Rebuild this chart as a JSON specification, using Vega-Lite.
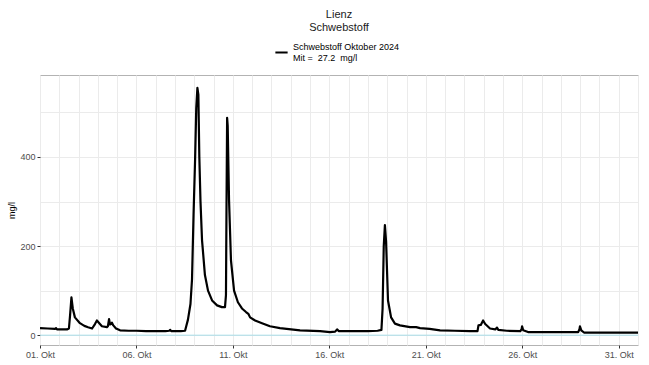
{
  "$schema": "https://vega.github.io/schema/vega-lite/v6.json",
  "width": 598,
  "height": 270,
  "autosize": {"type": "none"},
  "padding": {"left": 40, "top": 75, "right": 11, "bottom": 20},
  "background": "white",
  "title": {"text": ["Lienz", "Schwebstoff"], "frame": "group", "anchor": "middle", "fontSize": 11, "fontWeight": "normal", "font": "Liberation Sans", "color": "#1a1a1a", "offset": 12, "lineHeight": 13},
  "config": {"view": {"stroke": "#b3b3b3", "strokeWidth": 1}, "font": "Liberation Sans"},
  "layer": [
    {
      "data": {"values": [{"y": 0}]},
      "mark": {"type": "rule", "color": "#a8dde8", "strokeWidth": 1},
      "encoding": {"y": {"field": "y", "type": "quantitative"}}
    },
    {
      "data": {"values": [
        {"t": "2024-10-01T00:00", "v": 16},
        {"t": "2024-10-01T09:36", "v": 15},
        {"t": "2024-10-01T18:43", "v": 14},
        {"t": "2024-10-01T19:55", "v": 16},
        {"t": "2024-10-01T21:07", "v": 13},
        {"t": "2024-10-02T09:36", "v": 13},
        {"t": "2024-10-02T12:00", "v": 15},
        {"t": "2024-10-02T13:26", "v": 45},
        {"t": "2024-10-02T15:07", "v": 85},
        {"t": "2024-10-02T16:48", "v": 60},
        {"t": "2024-10-02T19:26", "v": 40},
        {"t": "2024-10-03T01:41", "v": 27},
        {"t": "2024-10-03T07:12", "v": 21},
        {"t": "2024-10-03T11:46", "v": 18},
        {"t": "2024-10-03T16:48", "v": 15},
        {"t": "2024-10-03T20:24", "v": 25},
        {"t": "2024-10-03T22:48", "v": 33},
        {"t": "2024-10-04T01:12", "v": 28},
        {"t": "2024-10-04T05:02", "v": 20},
        {"t": "2024-10-04T11:17", "v": 18},
        {"t": "2024-10-04T12:29", "v": 20},
        {"t": "2024-10-04T13:55", "v": 36},
        {"t": "2024-10-04T15:07", "v": 24},
        {"t": "2024-10-04T16:19", "v": 25},
        {"t": "2024-10-04T17:31", "v": 28},
        {"t": "2024-10-04T19:12", "v": 22},
        {"t": "2024-10-04T22:34", "v": 15},
        {"t": "2024-10-05T03:36", "v": 11},
        {"t": "2024-10-05T14:24", "v": 10},
        {"t": "2024-10-06T00:00", "v": 10},
        {"t": "2024-10-06T12:00", "v": 9},
        {"t": "2024-10-07T00:00", "v": 9},
        {"t": "2024-10-07T12:00", "v": 9},
        {"t": "2024-10-07T16:48", "v": 10},
        {"t": "2024-10-07T18:00", "v": 12},
        {"t": "2024-10-07T19:12", "v": 9},
        {"t": "2024-10-08T07:12", "v": 9},
        {"t": "2024-10-08T12:29", "v": 10},
        {"t": "2024-10-08T16:05", "v": 35},
        {"t": "2024-10-08T19:12", "v": 70},
        {"t": "2024-10-08T21:07", "v": 125},
        {"t": "2024-10-08T23:02", "v": 270},
        {"t": "2024-10-09T00:58", "v": 395},
        {"t": "2024-10-09T02:24", "v": 510},
        {"t": "2024-10-09T03:50", "v": 555},
        {"t": "2024-10-09T05:02", "v": 540},
        {"t": "2024-10-09T06:14", "v": 400},
        {"t": "2024-10-09T07:41", "v": 300},
        {"t": "2024-10-09T09:36", "v": 213},
        {"t": "2024-10-09T13:12", "v": 135},
        {"t": "2024-10-09T17:02", "v": 100},
        {"t": "2024-10-09T22:05", "v": 78},
        {"t": "2024-10-10T04:19", "v": 67},
        {"t": "2024-10-10T10:19", "v": 63},
        {"t": "2024-10-10T14:10", "v": 63},
        {"t": "2024-10-10T15:22", "v": 90},
        {"t": "2024-10-10T16:05", "v": 300},
        {"t": "2024-10-10T16:48", "v": 488},
        {"t": "2024-10-10T17:31", "v": 470},
        {"t": "2024-10-10T19:12", "v": 303},
        {"t": "2024-10-10T21:36", "v": 168},
        {"t": "2024-10-11T01:26", "v": 100},
        {"t": "2024-10-11T06:14", "v": 74},
        {"t": "2024-10-11T11:17", "v": 60},
        {"t": "2024-10-11T16:19", "v": 52},
        {"t": "2024-10-11T19:12", "v": 48},
        {"t": "2024-10-11T21:22", "v": 40},
        {"t": "2024-10-12T03:36", "v": 33},
        {"t": "2024-10-12T12:14", "v": 27},
        {"t": "2024-10-12T22:05", "v": 20},
        {"t": "2024-10-13T10:34", "v": 16},
        {"t": "2024-10-14T11:31", "v": 11},
        {"t": "2024-10-15T12:29", "v": 9},
        {"t": "2024-10-16T00:43", "v": 7},
        {"t": "2024-10-16T07:12", "v": 8},
        {"t": "2024-10-16T09:36", "v": 13},
        {"t": "2024-10-16T12:00", "v": 9},
        {"t": "2024-10-17T00:00", "v": 9},
        {"t": "2024-10-17T12:00", "v": 9},
        {"t": "2024-10-18T00:00", "v": 9},
        {"t": "2024-10-18T12:00", "v": 10},
        {"t": "2024-10-18T16:48", "v": 12},
        {"t": "2024-10-18T18:14", "v": 60},
        {"t": "2024-10-18T19:41", "v": 200},
        {"t": "2024-10-18T21:07", "v": 247},
        {"t": "2024-10-18T22:34", "v": 210},
        {"t": "2024-10-19T00:58", "v": 78},
        {"t": "2024-10-19T04:48", "v": 40},
        {"t": "2024-10-19T09:36", "v": 26},
        {"t": "2024-10-19T15:50", "v": 22},
        {"t": "2024-10-20T04:19", "v": 18},
        {"t": "2024-10-20T12:00", "v": 18},
        {"t": "2024-10-20T16:48", "v": 16},
        {"t": "2024-10-21T04:48", "v": 14},
        {"t": "2024-10-21T17:46", "v": 11},
        {"t": "2024-10-22T12:00", "v": 10},
        {"t": "2024-10-23T06:58", "v": 9},
        {"t": "2024-10-23T16:19", "v": 9},
        {"t": "2024-10-23T17:31", "v": 22},
        {"t": "2024-10-23T20:24", "v": 23},
        {"t": "2024-10-23T23:17", "v": 33},
        {"t": "2024-10-24T01:55", "v": 25},
        {"t": "2024-10-24T07:55", "v": 15},
        {"t": "2024-10-24T14:24", "v": 13},
        {"t": "2024-10-24T16:34", "v": 17},
        {"t": "2024-10-24T18:14", "v": 12},
        {"t": "2024-10-25T04:48", "v": 10},
        {"t": "2024-10-25T21:36", "v": 9},
        {"t": "2024-10-25T23:17", "v": 14},
        {"t": "2024-10-25T23:46", "v": 20},
        {"t": "2024-10-26T01:12", "v": 11},
        {"t": "2024-10-26T07:12", "v": 7},
        {"t": "2024-10-27T00:00", "v": 7},
        {"t": "2024-10-28T00:00", "v": 7},
        {"t": "2024-10-28T21:36", "v": 7},
        {"t": "2024-10-28T23:17", "v": 14},
        {"t": "2024-10-28T23:46", "v": 20},
        {"t": "2024-10-29T01:26", "v": 11},
        {"t": "2024-10-29T04:48", "v": 6},
        {"t": "2024-10-30T00:00", "v": 6},
        {"t": "2024-10-31T00:00", "v": 6},
        {"t": "2024-11-01T00:00", "v": 6}
      ]},
      "mark": {"type": "line", "strokeWidth": 2.2, "strokeJoin": "round"},
      "encoding": {
        "x": {
          "field": "t", "type": "temporal",
          "scale": {"domain": [{"year": 2024, "month": 10, "date": 1}, {"year": 2024, "month": 11, "date": 1}], "nice": false},
          "axis": {
            "title": null,
            "tickCount": {"interval": "day", "step": 1},
            "labelExpr": "(month(datum.value) == 9 && (date(datum.value) - 1) % 5 == 0) ? timeFormat(datum.value, '%d') + '. Okt' : ''",
            "tickColor": {"condition": {"test": "month(datum.value) == 9 && (date(datum.value) - 1) % 5 == 0", "value": "#333333"}, "value": "transparent"},
            "tickSize": 3,
            "labelOverlap": false,
            "labelFlush": false,
            "labelFontSize": 9,
            "labelColor": "#4d4d4d",
            "labelPadding": 2,
            "domain": false,
            "gridColor": "#ebebeb",
            "gridWidth": 1
          }
        },
        "y": {
          "field": "v", "type": "quantitative",
          "scale": {"domain": [-22, 584], "nice": false, "zero": false},
          "axis": {
            "title": "mg/l",
            "values": [0, 100, 200, 300, 400, 500],
            "labelExpr": "datum.value % 200 == 0 ? datum.label : ''",
            "tickColor": {"condition": {"test": "datum.value % 200 == 0", "value": "#333333"}, "value": "transparent"},
            "tickSize": 3,
            "labelFontSize": 9,
            "labelColor": "#4d4d4d",
            "labelPadding": 2,
            "titleFontSize": 9,
            "titleFontWeight": "normal",
            "titleColor": "#000000",
            "titlePadding": 3,
            "domain": false,
            "gridColor": "#ebebeb",
            "gridWidth": 1
          }
        },
        "color": {
          "datum": "Schwebstoff Oktober 2024",
          "type": "nominal",
          "scale": {"range": ["#000000"]},
          "legend": {
            "title": null,
            "orient": "none",
            "legendX": 234,
            "legendY": -30,
            "symbolType": "stroke",
            "symbolStrokeWidth": 2,
            "symbolSize": 150,
            "labelFontSize": 9,
            "labelColor": "#000000",
            "labelBaseline": "line-bottom",
            "labelExpr": "['Schwebstoff Oktober 2024', 'Mit =\u00a0 27.2\u00a0 mg/l']"
          }
        }
      }
    }
  ]
}
